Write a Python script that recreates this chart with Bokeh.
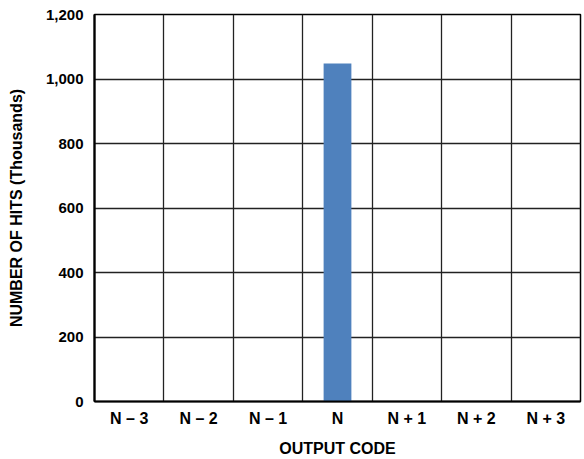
from bokeh.plotting import figure
from bokeh.models import Range1d, FixedTicker, NumeralTickFormatter
from bokeh.embed import file_html
from bokeh.resources import INLINE

categories = ["N \u2013 3", "N \u2013 2", "N \u2013 1", "N", "N + 1", "N + 2", "N + 3"]
hits = [0, 0, 0, 1048, 0, 0, 0]
y_ticks = [0, 200, 400, 600, 800, 1000, 1200]

centers = [i + 0.5 for i in range(len(categories))]
bounds = [i for i in range(1, len(categories))]

p = figure(width=584, height=459, output_backend="svg", toolbar_location=None,
           x_range=Range1d(0, len(categories)), y_range=Range1d(0, 1200),
           min_border_left=94, min_border_right=4, min_border_top=14, min_border_bottom=56)

p.vbar(x=centers, top=hits, width=0.4, fill_color="#4f81bd", line_color=None)

p.background_fill_color = "white"
p.border_fill_color = "white"
p.outline_line_color = "black"
p.outline_line_width = 1.5

font = "Liberation Sans"

p.xaxis.ticker = FixedTicker(ticks=centers)
p.xaxis.major_label_overrides = {c: lab for c, lab in zip(centers, categories)}
p.xgrid.ticker = FixedTicker(ticks=bounds)
p.yaxis.ticker = FixedTicker(ticks=y_ticks)
p.ygrid.ticker = FixedTicker(ticks=y_ticks[1:-1])
p.yaxis.formatter = NumeralTickFormatter(format="0,0")

for g in (p.xgrid, p.ygrid):
    g.grid_line_color = "#222222"
    g.grid_line_width = 1.3
    g.grid_line_alpha = 1.0

for ax in (p.xaxis, p.yaxis):
    ax.axis_line_color = "black"
    ax.axis_line_width = 2.2
    ax.major_tick_line_color = None
    ax.minor_tick_line_color = None
    ax.major_tick_out = 0
    ax.major_tick_in = 0
    ax.minor_tick_out = 0
    ax.major_label_text_font = font
    ax.major_label_text_font_style = "bold"
    ax.major_label_text_font_size = "15px"
    ax.major_label_text_color = "black"
    ax.axis_label_text_font = font
    ax.axis_label_text_font_style = "bold"
    ax.axis_label_text_font_size = "16px"
    ax.axis_label_text_color = "black"

p.xaxis.major_label_text_font_size = "16px"
p.xaxis.axis_label = "OUTPUT CODE"
p.yaxis.axis_label = "NUMBER OF HITS (Thousands)"
p.xaxis.major_label_standoff = 8
p.xaxis.axis_label_standoff = 10
p.yaxis.major_label_standoff = 11
p.yaxis.axis_label_standoff = 18

open("out.html", "w").write(file_html(p, INLINE))
